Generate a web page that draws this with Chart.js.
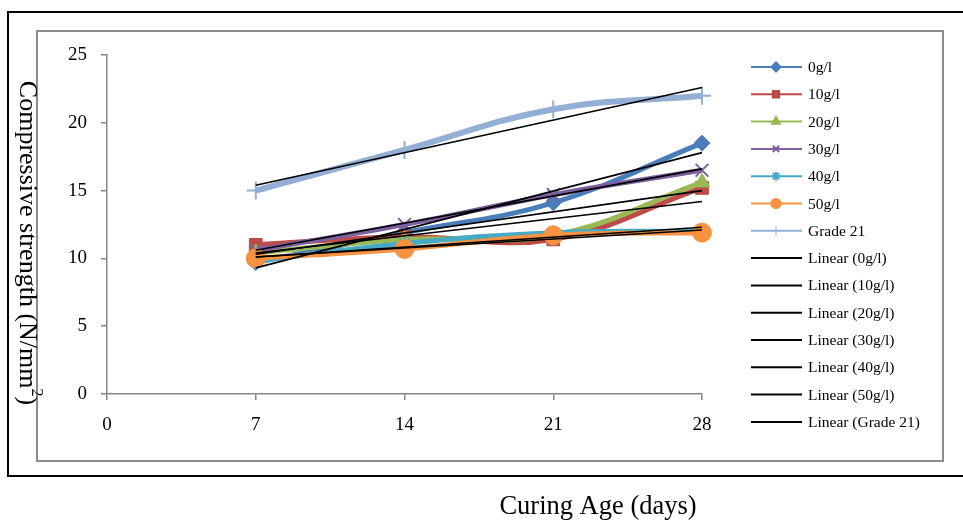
<!DOCTYPE html>
<html>
<head>
<meta charset="utf-8">
<script src="https://cdn.jsdelivr.net/npm/chart.js@4.4.0/dist/chart.umd.min.js"></script>
<style>
  html, body { margin: 0; padding: 0; background: #fff; }
  #wrap { width: 963px; height: 520px; }
</style>
</head>
<body>
<div id="wrap"><canvas id="myChart" width="963" height="520"></canvas></div>
<script>
// curing ages (days) and strengths
const ages = [7, 14, 21, 28]
const seriesNames = ['0g/l', '10g/l', '20g/l', '30g/l', '40g/l', '50g/l', 'Grade 21']
const s0 = [9.7, 11.9, 14.1, 18.5]
const s10 = [11.0, 11.6, 11.4, 15.2]
const s20 = [10.4, 11.4, 11.7, 15.6]
const s30 = [10.6, 12.5, 14.7, 16.5]
const s40 = [9.8, 11.1, 11.9, 12.0]
const s50 = [10.0, 10.7, 11.7, 11.9]
const grade21 = [15.0, 18.0, 21.0, 22.0]

// trend lines: values at the two ends (7 and 28 days)
const trendAges = [7, 28]
const trend0 = [9.3, 17.8]
const trend10 = [10.4, 14.2]
const trend20 = [10.3, 15.0]
const trend30 = [10.6, 16.6]
const trend40 = [10.1, 12.3]
const trend50 = [10.1, 12.1]
const trendGrade21 = [15.4, 22.6]

const xTicks = [0, 7, 14, 21, 28]
const yTicks = [0, 5, 10, 15, 20, 25]

const seriesValues = [s0, s10, s20, s30, s40, s50, grade21]
const trendValues = [trend0, trend10, trend20, trend30, trend40, trend50, trendGrade21]
const colors = ['#4A7EBB', '#BE4B48', '#98B954', '#7D60A0', '#46AAC5', '#F69240', '#94AFD6']
const markers = ['rectRot', 'rect', 'triangle', 'crossRot', 'star', 'circle', 'cross']
const markerSize = [8, 9, 9, 9, 7, 9.5, 9]

const serif = '"Liberation Serif", "Times New Roman", serif'
const axisGrey = '#868686'

function toPoints(xs, ys) {
  return xs.map((x, i) => ({ x: x, y: ys[i] }))
}

const datasets = []
seriesValues.forEach((vals, i) => {
  const isStroke = markers[i] === 'crossRot' || markers[i] === 'star' || markers[i] === 'cross'
  datasets.push({
    label: seriesNames[i],
    data: toPoints(ages, vals),
    borderColor: colors[i],
    backgroundColor: colors[i],
    borderWidth: i === 6 ? 6 : 5,
    tension: 0.4,
    pointStyle: markers[i],
    pointRadius: markerSize[i],
    pointBorderWidth: isStroke ? 2 : 1,
    pointBorderColor: colors[i],
    pointBackgroundColor: colors[i],
    clip: 20,
    order: 20 - i
  })
})
trendValues.forEach((vals, i) => {
  datasets.push({
    label: 'Linear (' + seriesNames[i] + ')',
    data: toPoints(trendAges, vals),
    borderColor: '#000',
    borderWidth: 1.6,
    pointRadius: 0,
    tension: 0,
    clip: 20,
    order: 0
  })
})

// boxes, axis titles and the legend, drawn like the Excel original
const decorPlugin = {
  id: 'decor',
  beforeDraw(chart) {
    const ctx = chart.ctx
    ctx.save()
    ctx.fillStyle = '#fff'
    ctx.fillRect(0, 0, chart.width, chart.height)
    ctx.strokeStyle = '#000'
    ctx.lineWidth = 2
    ctx.strokeRect(8, 12, 970, 464)
    ctx.strokeStyle = '#8c8c8c'
    ctx.lineWidth = 2
    ctx.strokeRect(37, 31, 906, 430)
    ctx.restore()
  },
  afterDraw(chart) {
    const ctx = chart.ctx
    ctx.save()
    ctx.fillStyle = '#000'
    // x title
    ctx.font = '26.5px ' + serif
    ctx.textAlign = 'center'
    ctx.textBaseline = 'middle'
    ctx.fillText('Curing Age (days)', 598, 507)

    // y title, reading top to bottom
    ctx.translate(27, 243)
    ctx.rotate(Math.PI / 2)
    const main = 'Compressive strength (N/mm'
    const sup = '2'
    const tail = ')'
    ctx.font = '26px ' + serif
    const wMain = ctx.measureText(main).width
    const wTail = ctx.measureText(tail).width
    ctx.font = '16px ' + serif
    const wSup = ctx.measureText(sup).width
    const total = wMain + wSup + wTail
    let x = -total / 2
    ctx.textAlign = 'left'
    ctx.font = '26px ' + serif
    ctx.fillText(main, x, 0)
    x += wMain
    ctx.font = '16px ' + serif
    ctx.fillText(sup, x, -9)
    x += wSup
    ctx.font = '26px ' + serif
    ctx.fillText(tail, x, 0)
    ctx.restore()

    // legend
    ctx.save()
    ctx.font = '15.5px ' + serif
    ctx.textBaseline = 'middle'
    ctx.textAlign = 'left'
    const labels = seriesNames.concat(seriesNames.map(n => 'Linear (' + n + ')'))
    labels.forEach((lab, i) => {
      const y = 67 + i * 27.3
      const isTrend = i >= seriesNames.length
      const col = isTrend ? '#000' : colors[i]
      ctx.strokeStyle = col
      ctx.lineWidth = 2
      ctx.beginPath()
      ctx.moveTo(751, y)
      ctx.lineTo(802, y)
      ctx.stroke()
      if (!isTrend) {
        ctx.fillStyle = col
        ctx.strokeStyle = col
        ctx.lineWidth = markers[i] === 'cross' ? 1 : 2
        Chart.helpers.drawPoint(ctx, {
          pointStyle: markers[i],
          radius: markers[i] === 'cross' ? 5 : 4.5,
          rotation: 0,
          borderWidth: ctx.lineWidth
        }, 776, y)
      }
      ctx.fillStyle = '#000'
      ctx.fillText(lab, 808, y + 1)
    })
    ctx.restore()
  }
}

function initChart() {
  const ctx = document.getElementById('myChart')
  const config = {
    type: 'line',
    data: { datasets: datasets },
    options: {
      responsive: false,
      devicePixelRatio: 1,
      animation: false,
      layout: {
        padding: { left: 0, top: 55, right: 261, bottom: 0 }
      },
      plugins: {
        legend: { display: false },
        tooltip: { enabled: false }
      },
      scales: {
        x: {
          type: 'linear',
          min: 0,
          max: 28,
          afterBuildTicks: (scale) => {
            scale.ticks = xTicks.map(v => ({ value: v }))
          },
          afterFit: (scale) => {
            scale.height = 126
          },
          grid: {
            drawOnChartArea: false,
            drawTicks: true,
            tickLength: 6,
            color: axisGrey,
            lineWidth: 1.5
          },
          border: { color: axisGrey, width: 1.5 },
          ticks: {
            color: '#000',
            font: { family: serif, size: 19 },
            padding: 14,
            maxRotation: 0
          }
        },
        y: {
          min: 0,
          max: 25,
          afterBuildTicks: (scale) => {
            scale.ticks = yTicks.map(v => ({ value: v }))
          },
          afterFit: (scale) => {
            scale.width = 107
          },
          grid: {
            drawOnChartArea: false,
            drawTicks: true,
            tickLength: 6,
            color: axisGrey,
            lineWidth: 1.5
          },
          border: { color: axisGrey, width: 1.5 },
          ticks: {
            color: '#000',
            font: { family: serif, size: 19 },
            padding: 14
          }
        }
      }
    },
    plugins: [decorPlugin]
  }
  // eslint-disable-next-line no-undef
  new Chart(ctx, config)
}

initChart()
</script>
</body>
</html>
